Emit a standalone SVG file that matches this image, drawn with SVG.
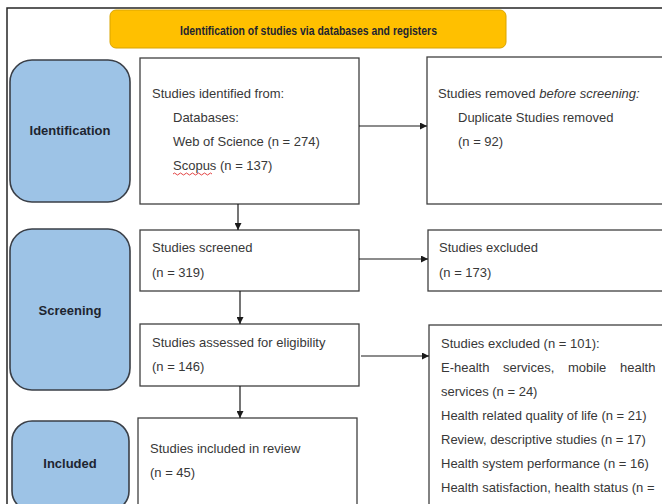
<svg xmlns="http://www.w3.org/2000/svg" width="662" height="504" viewBox="0 0 662 504">
<defs>
<style>
.frame{fill:none;stroke:#262626;stroke-width:1.5}
.phase{fill:#9DC3E6;stroke:#3A3F47;stroke-width:1.6}
.box{fill:#ffffff;stroke:#404040;stroke-width:1.3}
.title{fill:#FFC000;stroke:#D9A400;stroke-width:1}
.t{font-family:"Liberation Sans",Arial,sans-serif;font-size:13px;fill:#383838}
.b{font-family:"Liberation Sans",Arial,sans-serif;font-size:13px;font-weight:bold;fill:#1e2530;text-anchor:middle}
.conn{fill:none;stroke:#1a1a1a;stroke-width:1.2}
</style>
<marker id="ah" viewBox="0 0 10 10" refX="10" refY="5" markerWidth="8" markerHeight="7" markerUnits="userSpaceOnUse" orient="auto">
<path d="M0,0 L10,5 L0,10 z" fill="#1a1a1a"/>
</marker>
</defs>
<rect width="662" height="504" fill="#ffffff"/>
<path class="frame" d="M7,504 V8 H662"/>

<g id="title">
<rect class="title" x="110" y="10" width="396" height="38" rx="6"/>
<text class="b" x="308.5" y="35" textLength="257" lengthAdjust="spacingAndGlyphs">Identification of studies via databases and registers</text>
</g>

<g id="phase-identification">
<rect class="phase" x="10" y="60" width="120" height="142" rx="22"/>
<text class="b" x="70" y="135">Identification</text>
</g>
<g id="phase-screening">
<rect class="phase" x="10" y="229" width="120" height="161" rx="22"/>
<text class="b" x="70" y="315">Screening</text>
</g>
<g id="phase-included">
<rect class="phase" x="12" y="421" width="117" height="90" rx="20"/>
<text class="b" x="70" y="468">Included</text>
</g>

<g id="identified">
<rect class="box" x="140" y="58" width="219" height="146"/>
<text class="t" x="152" y="98">Studies identified from:</text>
<text class="t" x="173" y="122">Databases:</text>
<text class="t" x="173" y="146">Web of Science (n = 274)</text>
<text class="t" x="173" y="170">Scopus (n = 137)</text>
<path d="M173,174 q1.5,-2 3,0 t3,0 t3,0 t3,0 t3,0 t3,0 t3,0 t3,0 t3,0 t3,0 t3,0 t3,0 t3,0" fill="none" stroke="#E03030" stroke-width="0.9"/>
</g>

<g id="removed">
<rect class="box" x="427" y="57" width="245" height="147"/>
<text class="t" x="438" y="98">Studies removed <tspan font-style="italic">before screening:</tspan></text>
<text class="t" x="458" y="122">Duplicate Studies removed</text>
<text class="t" x="458" y="146">(n = 92)</text>
</g>

<g id="screened">
<rect class="box" x="140" y="230" width="219" height="61"/>
<text class="t" x="152" y="252">Studies screened</text>
<text class="t" x="152" y="277">(n = 319)</text>
</g>

<g id="excluded1">
<rect class="box" x="428" y="230" width="244" height="61"/>
<text class="t" x="439" y="252">Studies excluded</text>
<text class="t" x="439" y="277">(n = 173)</text>
</g>

<g id="assessed">
<rect class="box" x="140" y="324" width="219" height="62"/>
<text class="t" x="152" y="347">Studies assessed for eligibility</text>
<text class="t" x="152" y="371">(n = 146)</text>
</g>

<g id="excluded2">
<rect class="box" x="429" y="325" width="243" height="190"/>
<text class="t" x="441" y="348">Studies excluded (n = 101):</text>
<text class="t" y="372"><tspan x="441">E-health</tspan><tspan x="503">services,</tspan><tspan x="568">mobile</tspan><tspan x="620">health</tspan></text>
<text class="t" x="441" y="396">services (n = 24)</text>
<text class="t" x="441" y="420">Health related quality of life (n = 21)</text>
<text class="t" x="441" y="444">Review, descriptive studies (n = 17)</text>
<text class="t" x="441" y="468">Health system performance (n = 16)</text>
<text class="t" x="441" y="492">Health satisfaction, health status (n =</text>
</g>

<g id="included">
<rect class="box" x="138" y="418" width="219" height="100"/>
<text class="t" x="150" y="453">Studies included in review</text>
<text class="t" x="150" y="477">(n = 45)</text>
</g>

<g id="connectors">
<path class="conn" d="M359,126 H427" marker-end="url(#ah)"/>
<path class="conn" d="M238,204 V230" marker-end="url(#ah)"/>
<path class="conn" d="M359,259 H428" marker-end="url(#ah)"/>
<path class="conn" d="M240,291 V324" marker-end="url(#ah)"/>
<path class="conn" d="M361,356 H429" marker-end="url(#ah)"/>
<path class="conn" d="M240,386 V418" marker-end="url(#ah)"/>
</g>
</svg>
